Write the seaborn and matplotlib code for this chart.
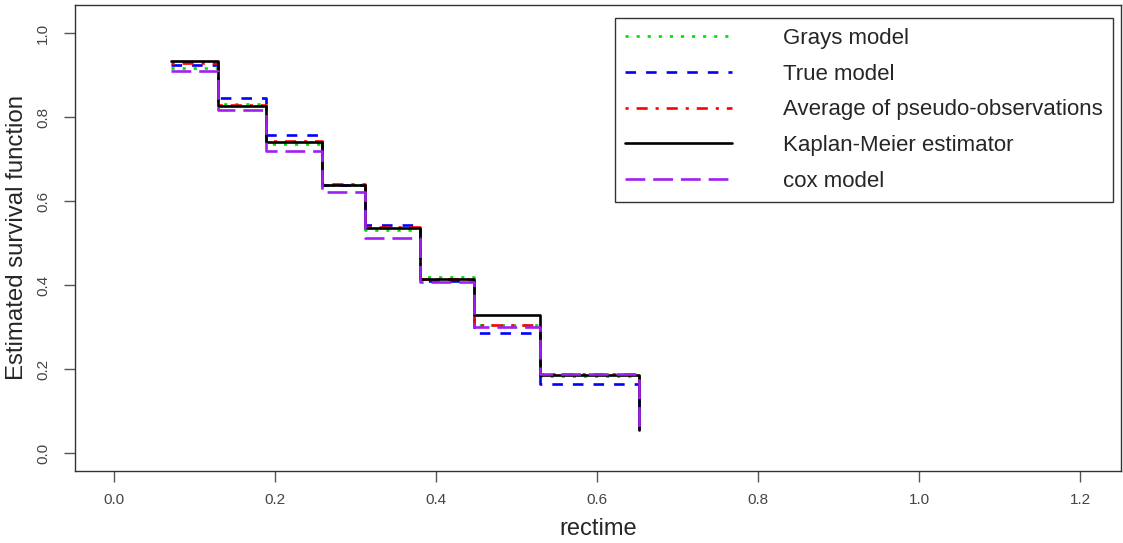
import numpy as np
import pandas as pd
import matplotlib
matplotlib.use("Agg")
import matplotlib.pyplot as plt
import seaborn as sns

# ---- data ----
times = [0.0704, 0.1296, 0.1884, 0.2584, 0.3114, 0.3805, 0.4470, 0.5290, 0.6520]
grays = [0.918, 0.832, 0.736, 0.638, 0.532, 0.420, 0.306, 0.183, 0.054]
true_model = [0.924, 0.846, 0.758, 0.638, 0.542, 0.410, 0.287, 0.164, 0.054]
avg_pseudo = [0.930, 0.830, 0.744, 0.641, 0.539, 0.414, 0.306, 0.189, 0.054]
kaplan_meier = [0.934, 0.827, 0.740, 0.638, 0.535, 0.414, 0.328, 0.187, 0.054]
cox_model = [0.909, 0.816, 0.719, 0.622, 0.513, 0.408, 0.299, 0.189, 0.054]

labels = ["Grays model", "True model", "Average of pseudo-observations",
          "Kaplan-Meier estimator", "cox model"]
x_ticks = [0.0, 0.2, 0.4, 0.6, 0.8, 1.0, 1.2]
y_ticks = [0.0, 0.2, 0.4, 0.6, 0.8, 1.0]

sns.set_style("white")
plt.rcParams['font.family'] = ['Liberation Sans', 'DejaVu Sans']

fig = plt.figure(figsize=(11.23, 5.43), dpi=100)
ax = fig.add_axes([0.0671, 0.1332, 0.998 - 0.0671, 0.9908 - 0.1332])

series = [grays, true_model, avg_pseudo, kaplan_meier, cox_model]
colors = ["#00e000", "#0000ff", "#ff0000", "#000000", "#a020f0"]
styles = [(0, (1.2, 3.0)), (0, (4.0, 3.8)), (0, (1.2, 3.0, 4.2, 3.0)), "-", (0, (7.5, 3.0))]
order = [0, 1, 2, 3, 4]
handles = {}
for i in order:
    df = pd.DataFrame({"rectime": times, "surv": series[i]})
    sns.lineplot(data=df, x="rectime", y="surv", ax=ax, color=colors[i],
                 linestyle=styles[i], linewidth=1.9, drawstyle="steps-post",
                 estimator=None, sort=False, label=labels[i], legend=False)
    handles[i] = ax.lines[-1]

ax.set_xlim(-0.048, 1.25)
ax.set_ylim(-0.042, 1.067)
ax.set_xticks(x_ticks)
ax.set_yticks(y_ticks)
tick_font = ['Liberation Sans Narrow', 'Liberation Sans', 'DejaVu Sans']
ax.set_xticklabels([f"{v:.1f}" for v in x_ticks], family=tick_font)
ax.set_yticklabels([f"{v:.1f}" for v in y_ticks], rotation=90, va="center",
                   family=['Liberation Sans', 'DejaVu Sans'])
ax.tick_params(axis="both", which="both", length=8, width=1, color="#555555",
               labelsize=11, labelcolor="#444444", direction="out", left=True, bottom=True)
ax.tick_params(axis="x", pad=8)
ax.tick_params(axis="y", pad=10)
for s in ax.spines.values():
    s.set_visible(True)
    s.set_color("#333333")
    s.set_linewidth(1.0)

ax.set_xlabel("rectime", fontsize=17, labelpad=8)
ax.set_ylabel("Estimated survival function", fontsize=17.3, labelpad=6)

leg = ax.legend([handles[i] for i in range(5)], labels, loc="upper right",
                bbox_to_anchor=(0.9926, 0.972), borderaxespad=0, fontsize=16,
                handlelength=4.8, handletextpad=2.3, labelspacing=0.66,
                frameon=True, fancybox=False, borderpad=0.45)
leg.get_frame().set_edgecolor("black")
leg.get_frame().set_linewidth(1.0)

fig.savefig("out.png", dpi=100)
